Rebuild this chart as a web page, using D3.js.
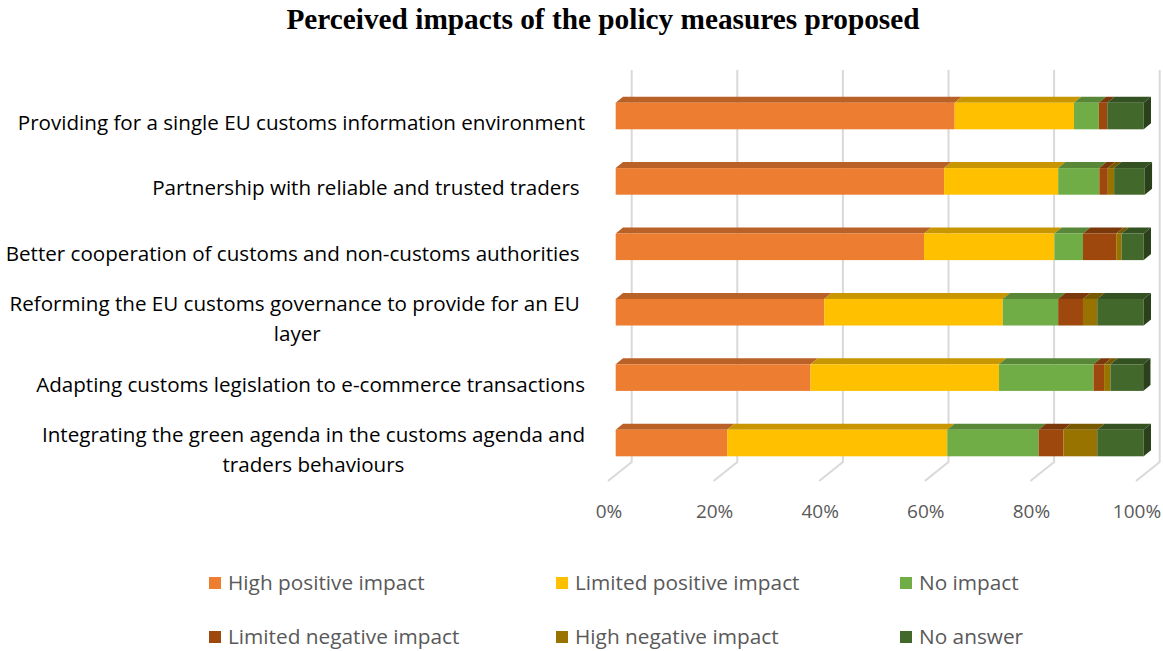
<!DOCTYPE html>
<html lang="en">
<head>
  <meta charset="utf-8">
  <title>Perceived impacts of the policy measures proposed</title>
  <style>
    body { margin: 0; background: #fff; }
    svg { display: block; }
    .cat text { font-family: "Open Sans", sans-serif; font-size: 20.6px; fill: #000; white-space: pre; }
    .tick-label { font-family: "Open Sans", sans-serif; font-size: 19px; fill: #595959; }
    .legend text { font-family: "Open Sans", sans-serif; font-size: 20.8px; fill: #595959; }
    .title { font-family: "Liberation Serif", "Times New Roman", serif; font-weight: bold; font-size: 29.3px; fill: #000; }
  </style>
</head>
<body>
<svg id="chart" width="1163" height="651"></svg>

<script src="https://d3js.org/d3.v7.min.js"></script>
<script>
  // category labels (lines) as in the reference, top to bottom
  const categories = [
    ["Providing for a single EU customs information environment"],
    ["Partnership with reliable and trusted traders "],
    ["Better cooperation of customs and non-customs authorities "],
    ["Reforming the EU customs governance to provide for an EU ", "layer"],
    ["Adapting customs legislation to e-commerce transactions"],
    ["Integrating the green agenda in the customs agenda and", "traders behaviours"]
  ];

  const seriesNames = [
    "High positive impact", "Limited positive impact", "No impact",
    "Limited negative impact", "High negative impact", "No answer"
  ];
  const seriesColors = ["#ED7D31", "#FFC000", "#70AD47", "#9E480E", "#997300", "#43682B"];

  // shares in %, one array per series, same order as categories
  const highPositive    = [64.2, 62.2, 58.4, 39.5, 36.9, 21.1];
  const limitedPositive = [22.6, 21.6, 24.7, 33.8, 35.7, 41.7];
  const noImpact        = [4.7, 7.8, 5.4, 10.5, 17.9, 17.3];
  const limitedNegative = [1.6, 1.6, 6.3, 4.7, 2.0, 4.7];
  const highNegative    = [0.0, 1.2, 1.0, 2.7, 1.2, 6.4];
  const noAnswer        = [6.9, 5.8, 4.2, 8.8, 6.2, 8.8];

  const tickValues = [0, 20, 40, 60, 80, 100];

  const svg = d3.select("#chart");
  const catKeys = categories.map((c, i) => "c" + i);
  const series = [highPositive, limitedPositive, noImpact, limitedNegative, highNegative, noAnswer];

  const rows = catKeys.map((k, i) => {
    const r = { key: k };
    seriesNames.forEach((s, j) => r[s] = series[j][i]);
    return r;
  });
  const stacked = d3.stack().keys(seriesNames)(rows);

  // front floor edge scale
  const x = d3.scaleLinear().domain([0, 100]).range([608, 1136]);
  const y = d3.scaleBand().domain(catKeys).range([83.3, 475.7])
    .paddingInner(0.593).paddingOuter(0.2965);

  // 3d offsets
  const wallDx = 23.7, wallDy = 19;   // floor front -> back wall
  const barDx = 7.7;                  // floor front -> bar front
  const topDx = 7.3, topDy = 6;       // bar depth
  const wallTop = 70, floorBack = 462;

  // gridlines on back wall and floor
  const grid = svg.append("g").attr("fill", "none").attr("stroke", "#d9d9d9").attr("stroke-width", 2);
  grid.selectAll("path").data(tickValues).join("path")
    .attr("d", v => {
      const xb = x(v) + wallDx;
      return `M${xb},${wallTop}L${xb},${floorBack}L${x(v)},${floorBack + wallDy}`;
    });

  // bars
  const bars = svg.append("g");
  stacked.forEach((layer, j) => {
    const col = d3.color(seriesColors[j]);
    const g = bars.append("g");
    layer.forEach((d, i) => {
      const x0 = x(d[0]) + barDx, x1 = x(d[1]) + barDx;
      if (x1 - x0 <= 0) return;
      const yt = y(catKeys[i]);
      g.append("path")
        .attr("fill", col.darker(0.7))
        .attr("d", `M${x0},${yt}L${x0 + topDx},${yt - topDy}L${x1 + topDx},${yt - topDy}L${x1},${yt}Z`);
      g.append("rect")
        .attr("x", x0).attr("y", yt)
        .attr("width", x1 - x0).attr("height", y.bandwidth())
        .attr("fill", col);
    });
  });
  // right side faces of the last segment
  const lastLayer = stacked[stacked.length - 1];
  bars.append("g").selectAll("path").data(lastLayer).join("path")
    .attr("fill", d3.color(seriesColors[5]).darker(1.3))
    .attr("d", (d, i) => {
      const xr = x(d[1]) + barDx, yt = y(catKeys[i]), yb = yt + y.bandwidth();
      return `M${xr},${yt}L${xr + topDx},${yt - topDy}L${xr + topDx},${yb - topDy}L${xr},${yb}Z`;
    });

  // tick labels
  svg.append("g").selectAll("text").data(tickValues).join("text")
    .attr("class", "tick-label")
    .attr("x", v => x(v) + 1)
    .attr("y", 518)
    .attr("text-anchor", "middle")
    .text(v => v + "%");

  // category labels
  const labelRight = 585;
  const lineH = 30;
  const cat = svg.append("g").attr("class", "cat");
  categories.forEach((lines, i) => {
    const cy = y(catKeys[i]) + y.bandwidth() / 2 + 7;
    const g = cat.append("g");
    const probe = g.append("text").text(lines[0]);
    const w = probe.node().getComputedTextLength();
    probe.remove();
    const cx = labelRight - w / 2;
    const y0 = cy - (lines.length - 1) * lineH / 2;
    lines.forEach((ln, k) => {
      g.append("text").attr("x", cx).attr("y", y0 + k * lineH + 7)
        .attr("text-anchor", "middle").text(ln);
    });
  });

  // title
  svg.append("text").attr("class", "title")
    .attr("x", 603).attr("y", 29).attr("text-anchor", "middle")
    .text("Perceived impacts of the policy measures proposed");

  // legend
  const legendCols = [209, 556, 900];
  const legendRows = [583, 637];
  const legend = svg.append("g").attr("class", "legend");
  const items = legend.selectAll("g").data(seriesNames).join("g")
    .attr("transform", (d, i) => `translate(${legendCols[i % 3]},${legendRows[Math.floor(i / 3)]})`);
  items.append("rect").attr("x", 0).attr("y", -6).attr("width", 12).attr("height", 12)
    .attr("fill", (d, i) => seriesColors[i]);
  items.append("text").attr("x", 19).attr("y", 7).text(d => d);
</script>
</body>
</html>
